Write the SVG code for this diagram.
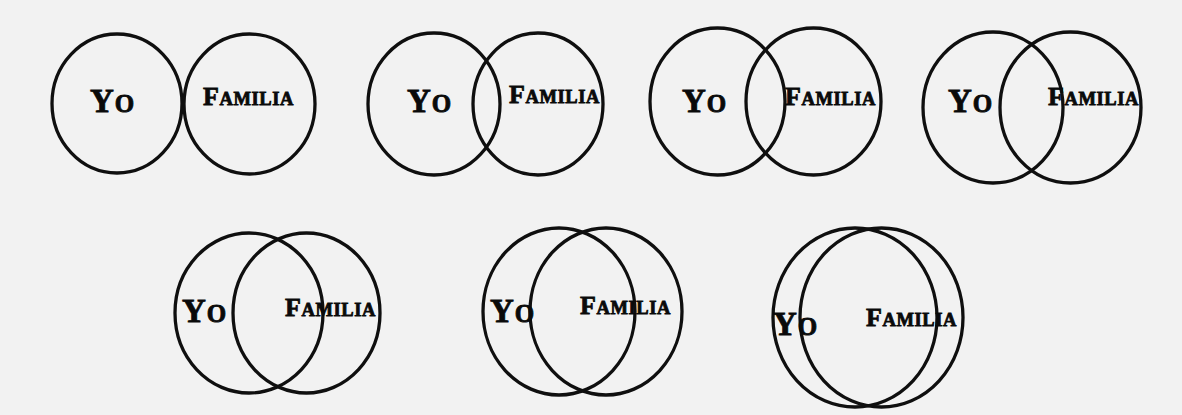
<svg xmlns="http://www.w3.org/2000/svg" width="1182" height="415" viewBox="0 0 1182 415">
<style>
.c{fill:none;stroke:#0f0f0f;stroke-width:3.3}
.t{font-family:"Liberation Serif","DejaVu Serif",serif;font-weight:bold;fill:#0a0a0a;stroke:#0a0a0a;stroke-width:0.8}
.yo{font-size:33px;letter-spacing:1px}
.yo .s{font-size:25px}
.fa{font-size:26px;letter-spacing:0.6px}
.fa .s{font-size:18.5px}
</style>
<rect width="1182" height="415" fill="#f2f2f2"/>
<g id="d1">
<ellipse class="c" cx="117" cy="103.5" rx="65" ry="69.5"/>
<ellipse class="c" cx="249.5" cy="104" rx="65.5" ry="70"/>
<text class="t yo" x="90" y="112">Y<tspan class="s">O</tspan></text>
<text class="t fa" x="203" y="105">F<tspan class="s">AMILIA</tspan></text>
</g>
<g id="d2">
<ellipse class="c" cx="434" cy="104" rx="66" ry="71"/>
<ellipse class="c" cx="538" cy="104" rx="65" ry="71"/>
<text class="t yo" x="407" y="112">Y<tspan class="s">O</tspan></text>
<text class="t fa" x="509" y="103">F<tspan class="s">AMILIA</tspan></text>
</g>
<g id="d3">
<ellipse class="c" cx="717.5" cy="101.5" rx="67.5" ry="73.5"/>
<ellipse class="c" cx="813.5" cy="101.5" rx="67.5" ry="73.5"/>
<text class="t yo" x="682" y="112">Y<tspan class="s">O</tspan></text>
<text class="t fa" x="785" y="105">F<tspan class="s">AMILIA</tspan></text>
</g>
<g id="d4">
<ellipse class="c" cx="993" cy="107.5" rx="70" ry="75.5"/>
<ellipse class="c" cx="1070.5" cy="107.5" rx="70.5" ry="75.5"/>
<text class="t yo" x="948" y="112">Y<tspan class="s">O</tspan></text>
<text class="t fa" x="1048" y="105">F<tspan class="s">AMILIA</tspan></text>
</g>
<g id="d5">
<ellipse class="c" cx="249" cy="313" rx="74" ry="80"/>
<ellipse class="c" cx="306.5" cy="313" rx="73.5" ry="80"/>
<text class="t yo" x="182" y="322">Y<tspan class="s">O</tspan></text>
<text class="t fa" x="285" y="316">F<tspan class="s">AMILIA</tspan></text>
</g>
<g id="d6">
<ellipse class="c" cx="559" cy="311.5" rx="76" ry="83.5"/>
<ellipse class="c" cx="606" cy="311.5" rx="76" ry="83.5"/>
<text class="t yo" x="490" y="322">Y<tspan class="s">O</tspan></text>
<text class="t fa" x="580" y="314">F<tspan class="s">AMILIA</tspan></text>
</g>
<g id="d7">
<ellipse class="c" cx="855" cy="317.5" rx="82" ry="89.5"/>
<ellipse class="c" cx="881.5" cy="317.5" rx="81.5" ry="89.5"/>
<text class="t yo" x="773" y="335">Y<tspan class="s">O</tspan></text>
<text class="t fa" x="866" y="326">F<tspan class="s">AMILIA</tspan></text>
</g>
<g id="connectors"/>
</svg>
